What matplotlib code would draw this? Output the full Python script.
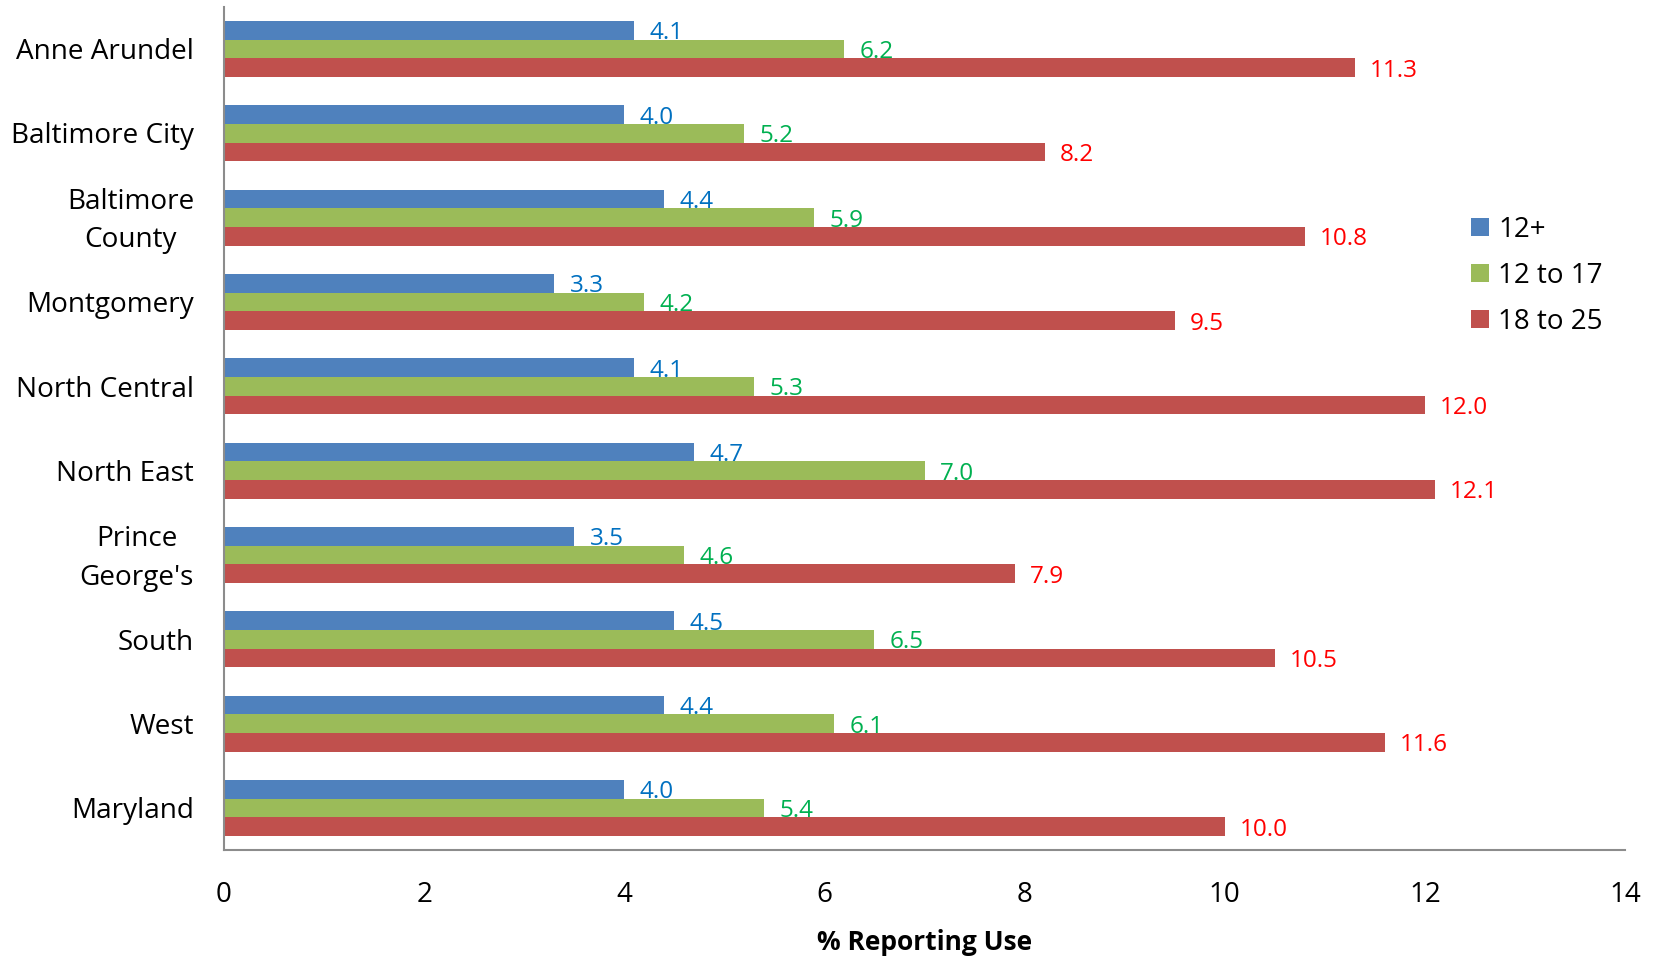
import matplotlib
matplotlib.use("Agg")
import matplotlib.pyplot as plt
import matplotlib.transforms as mtransforms
import numpy as np

plt.rcParams['font.family'] = ['Open Sans', 'DejaVu Sans']

regions = ["Anne Arundel", "Baltimore City", "Baltimore\nCounty", "Montgomery",
           "North Central", "North East", "Prince\nGeorge's", "South", "West",
           "Maryland"]
series_names = ["12+", "12 to 17", "18 to 25"]
age_12_plus = [4.1, 4.0, 4.4, 3.3, 4.1, 4.7, 3.5, 4.5, 4.4, 4.0]
age_12_17 = [6.2, 5.2, 5.9, 4.2, 5.3, 7.0, 4.6, 6.5, 6.1, 5.4]
age_18_25 = [11.3, 8.2, 10.8, 9.5, 12.0, 12.1, 7.9, 10.5, 11.6, 10.0]
x_ticks = [0, 2, 4, 6, 8, 10, 12, 14]

bar_colors = ["#4F81BD", "#9BBB59", "#C0504D"]
label_colors = ["#0070C0", "#00B050", "#FF0000"]

fig = plt.figure(figsize=(16.54, 9.58), dpi=100)
ax = fig.add_axes([0.1354, 0.1124, 0.9825 - 0.1354, 0.993 - 0.1124])

y = np.arange(len(regions))
h = 0.221
offsets = [-h, 0.0, h]
for vals, off, bc, lc, name in zip([age_12_plus, age_12_17, age_18_25], offsets,
                                   bar_colors, label_colors, series_names):
    bars = ax.barh(y + off, vals, height=h, color=bc, label=name, zorder=2)
    for rect, v in zip(bars, vals):
        ax.annotate(f"{v:.1f}", xy=(rect.get_width(), rect.get_y() + rect.get_height() / 2),
                    xytext=(11, 0), textcoords="offset points",
                    ha="left", va="center_baseline", fontsize=17.5, color=lc)

ax.set_xlim(0, 14)
ax.set_ylim(len(regions) - 0.5, -0.5)
ax.set_xticks(x_ticks)
ax.set_xticklabels([str(t) for t in x_ticks])
ax.set_yticks(y)
ax.set_yticklabels(regions, multialignment="center", linespacing=1.5, va="center")
ax.tick_params(axis="y", length=0, pad=21.5, labelsize=20.1)
ax.tick_params(axis="x", length=0, pad=22, labelsize=20)

# nudge the category names slightly downward
shift = mtransforms.ScaledTranslation(0, -2.3 / 72, fig.dpi_scale_trans)
for lbl in ax.get_yticklabels():
    lbl.set_transform(lbl.get_transform() + shift)

for side in ["top", "right"]:
    ax.spines[side].set_visible(False)
for side in ["left", "bottom"]:
    ax.spines[side].set_color("#8C8C8C")
    ax.spines[side].set_linewidth(1.5)

ax.set_xlabel("% Reporting Use", fontsize=19, fontweight="bold", labelpad=14.5)

ax.legend(loc="center left", bbox_to_anchor=(0.8894, 0.712),
          bbox_transform=fig.transFigure, frameon=False, fontsize=20,
          handlelength=0.65, handleheight=0.65, handletextpad=0.33,
          labelspacing=0.65, borderpad=0, borderaxespad=0)

fig.savefig("out.png", dpi=100)
